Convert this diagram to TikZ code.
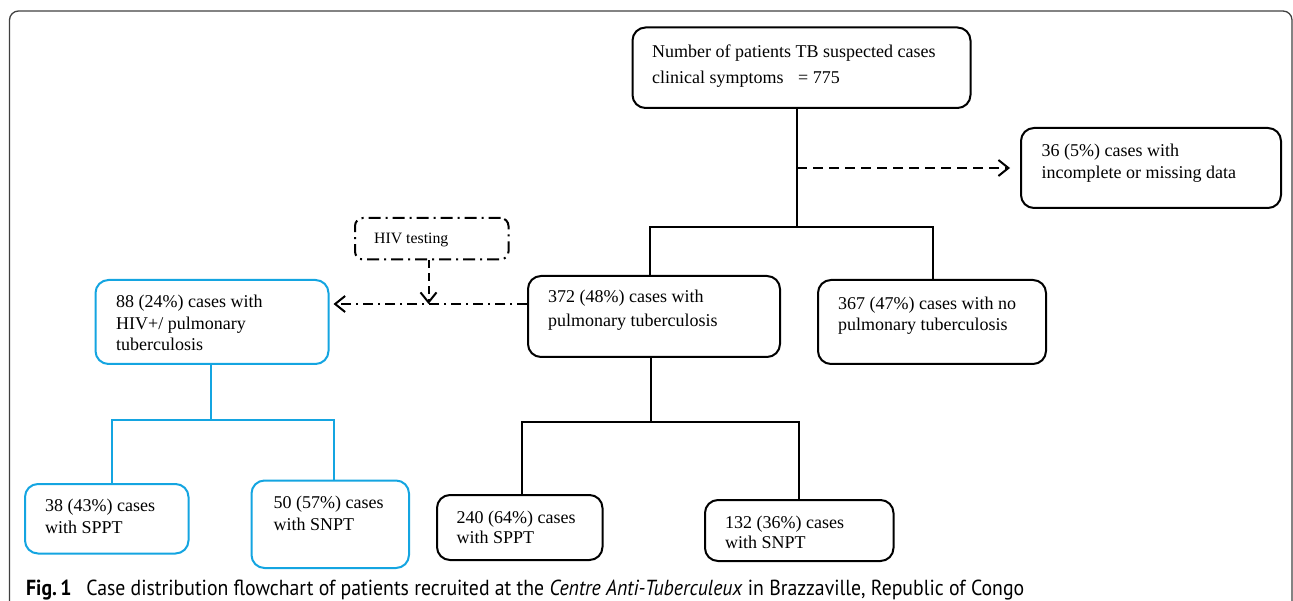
\documentclass[tikz,border=0pt]{standalone}
\usepackage{fontspec}
\setmainfont{Liberation Serif}
\newfontfamily\capfont{PT Sans}
\usetikzlibrary{arrows.meta}
\definecolor{hivblue}{RGB}{20,165,225}
\newcommand\boxlines[3]{\fontsize{#1}{#2}\selectfont\begin{tabular}[t]{@{}l@{}}#3\end{tabular}}
\begin{document}
\begin{tikzpicture}[x=1pt,y=-1pt,
  bx/.style={draw, line width=2pt, rounded corners=13pt, inner sep=0pt},
  bluebx/.style={bx, draw=hivblue},
  testbx/.style={draw, line width=2pt, rounded corners=8pt, inner sep=0pt, dash pattern=on 12pt off 5pt on 2pt off 5pt},
  txt/.style={anchor=base west, inner sep=0pt},
  conn/.style={line width=2pt},
  bconn/.style={line width=2pt, draw=hivblue},
  tip/.style={-{Straight Barb[length=10pt,width=16pt]}},
  dashconn/.style={conn, dash pattern=on 10pt off 6pt, tip},
  dotconn/.style={conn, dash pattern=on 10pt off 5pt on 2pt off 5pt, tip},
  ]
\useasboundingbox (0,0) rectangle (1293,601);
\begin{scope}
\clip (0,0) rectangle (1293,601);
\draw[line width=1.3pt, black!75, rounded corners=9pt] (9.5,620) -- (9.5,11) -- (1292,11) -- (1292,620);
\end{scope}

% boxes
\node[bx, minimum width=338pt, minimum height=80.5pt] (top) at (801.5,67.75) {};
\node[bx, minimum width=260pt, minimum height=80pt] (miss) at (1151,168) {};
\node[bx, minimum width=252pt, minimum height=81pt] (ptb) at (654,316.5) {};
\node[bx, minimum width=228pt, minimum height=84pt] (nptb) at (932,322) {};
\node[bluebx, minimum width=233pt, minimum height=84pt] (hiv) at (212,322) {};
\node[testbx, minimum width=153.5pt, minimum height=41.5pt] (test) at (431.75,238.75) {};
\node[bluebx, minimum width=163.5pt, minimum height=69.5pt] (s38) at (106.75,518.75) {};
\node[bluebx, minimum width=157.5pt, minimum height=87.5pt] (s50) at (330.25,524.25) {};
\node[bx, minimum width=165.5pt, minimum height=65pt] (s240) at (519.75,527.5) {};
\node[bx, minimum width=188.5pt, minimum height=61pt] (s132) at (799.25,530.5) {};

% texts
\node[txt] (topT) at (652,58) {\boxlines{18}{25.5}{Number of patients TB suspected cases\\clinical symptoms\hspace{0.8em}= 775}};
\node[txt] (missT) at (1041.5,157) {\boxlines{18}{21.5}{36 (5\%) cases with\\incomplete or missing data}};
\node[txt] (ptbT) at (548,303) {\boxlines{18}{23.5}{372 (48\%) cases with\\pulmonary tuberculosis}};
\node[txt] (nptbT) at (838,310) {\boxlines{18}{21}{367 (47\%) cases with no\\pulmonary tuberculosis}};
\node[txt] (hivT) at (116,308) {\boxlines{18}{21.5}{88 (24\%) cases with\\HIV+/ pulmonary\\tuberculosis}};
\node[txt] (testT) at (374,244) {\boxlines{15.8}{19}{HIV testing}};
\node[txt] (s38T) at (45,511.5) {\boxlines{18}{21.5}{38 (43\%) cases\\with SPPT}};
\node[txt] (s50T) at (273.5,508.5) {\boxlines{18}{21.5}{50 (57\%) cases\\with SNPT}};
\node[txt] (s240T) at (456.5,523.5) {\boxlines{18}{20}{240 (64\%) cases\\with SPPT}};
\node[txt] (s132T) at (725,528.5) {\boxlines{18}{20}{132 (36\%) cases\\with SNPT}};

% coordinates
\coordinate (b1) at (797,227);
\coordinate (bL) at (650,227);
\coordinate (bR) at (933,227);
\coordinate (ya) at (0,304);
\coordinate (tx) at (428.5,0);
\coordinate (h1) at (211,420);
\coordinate (hL) at (112,420);
\coordinate (hR) at (333.5,420);
\coordinate (p1) at (651,422);
\coordinate (pL) at (521.5,422);
\coordinate (pR) at (799,422);

% connectors
\draw[conn] (b1 |- top.south) -- (b1);
\draw[conn] (bL |- ptb.north) -- (bL) -- (bR) -- (bR |- nptb.north);
\draw[dashconn, shorten >=10pt] (b1 |- miss.west) -- (miss.west);
\draw[dotconn, shorten >=4pt] (ptb.west |- ya) -- (hiv.east |- ya);
\draw[conn, dash pattern=on 8pt off 5pt, tip] (tx |- test.south) -- (tx |- ya);
\draw[bconn] (h1 |- hiv.south) -- (h1);
\draw[bconn] (hL |- s38.north) -- (hL) -- (hR) -- (hR |- s50.north);
\draw[conn] (p1 |- ptb.south) -- (p1);
\draw[conn] (pL |- s240.north) -- (pL) -- (pR) -- (pR |- s132.north);

% caption
\node[anchor=base west, inner sep=0pt] (cap) at (26,595) {\resizebox{998pt}{15.5pt}{\capfont\fontsize{20}{24}\selectfont\textbf{Fig.\,1}\hspace{0.75em}Case distribution flowchart of patients recruited at the \textit{Centre Anti-Tuberculeux} in Brazzaville, Republic of Congo}};
\end{tikzpicture}
\end{document}
